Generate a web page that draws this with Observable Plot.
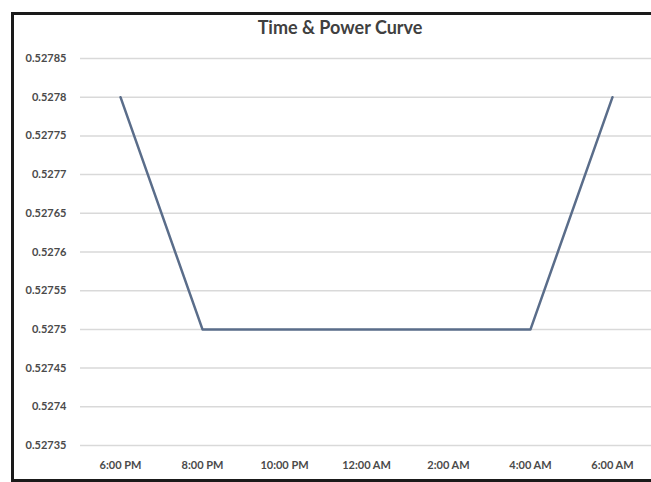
<!DOCTYPE html>
<html>
<head>
<meta charset="utf-8">
<script src="https://cdn.jsdelivr.net/npm/d3@7"></script>
<script src="https://cdn.jsdelivr.net/npm/@observablehq/plot@0.6"></script>
<style>
  html, body { margin: 0; padding: 0; background: #fff; overflow: hidden; }
  #page { position: relative; width: 651px; height: 482px; overflow: hidden; background: #fff; }
  #title { position: absolute; top: 16px; left: 0; width: 680px; line-height: 22px; text-align: center;
           font-family: Lato, "Liberation Sans", sans-serif; font-weight: bold; font-size: 18px; color: #404040; }
  #chart { position: absolute; top: 40px; left: 0; width: 651px; }
  #border { position: absolute; left: 11px; top: 12px; width: 700px; height: 464px;
            border-left: 3px solid #1a1a1a; border-top: 3px solid #1a1a1a; border-bottom: 3px solid #1a1a1a; pointer-events: none; }
</style>
</head>
<body>
<div id="page">
  <div id="title"></div>
  <div id="chart"></div>
  <div id="border"></div>
</div>
<script>
const chartTitle = "Time & Power Curve";
const times = ["6:00 PM", "8:00 PM", "10:00 PM", "12:00 AM", "2:00 AM", "4:00 AM", "6:00 AM"];
const power = [0.5278, 0.5275, 0.5275, 0.5275, 0.5275, 0.5275, 0.5278];
const yTicks = [0.52735, 0.5274, 0.52745, 0.5275, 0.52755, 0.5276, 0.52765, 0.5277, 0.52775, 0.5278, 0.52785];

const data = times.map((t, i) => ({time: t, value: power[i]}));

document.getElementById("title").textContent = chartTitle;

const plot = Plot.plot({
  width: 651,
  height: 442,
  marginLeft: 80,
  marginRight: 0,
  marginTop: 18,
  marginBottom: 37,
  style: {background: "transparent", fontFamily: "Lato, 'Liberation Sans', sans-serif", fontSize: "11px", fontWeight: "bold", color: "#4a4a4a", maxWidth: "none"},
  x: {type: "point", domain: times, padding: 0.47, label: null},
  y: {domain: [0.52735, 0.52785], label: null},
  marks: [
    Plot.ruleY(yTicks, {stroke: "#d9d9d9", strokeWidth: 1.5}),
    Plot.axisY({ticks: yTicks, tickSize: 0, tickPadding: 14, tickFormat: d => String(d), label: null}),
    Plot.axisX({tickSize: 0, tickPadding: 16, label: null}),
    Plot.line(data, {x: "time", y: "value", stroke: "#5a6d8a", strokeWidth: 2.5})
  ]
});
document.getElementById("chart").appendChild(plot);
</script>
</body>
</html>
